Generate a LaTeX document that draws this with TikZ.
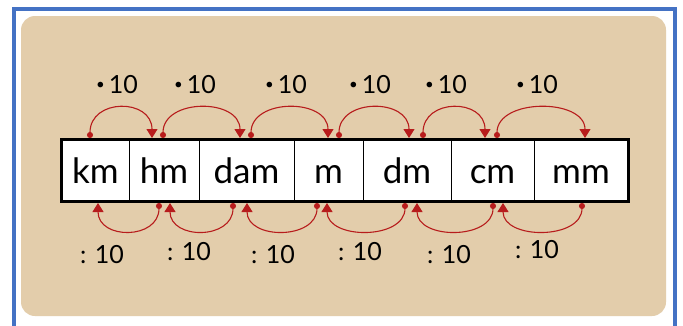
\documentclass[tikz,border=0pt]{standalone}
\usepackage{fontspec}
\setmainfont{Lato}
\usetikzlibrary{arrows.meta}
\definecolor{framblue}{HTML}{4472C4}
\definecolor{beige}{HTML}{E3CDAB}
\definecolor{arrred}{HTML}{B71C1C}
\newcommand{\mdot}{{\fontsize{15}{15}\selectfont\raisebox{4pt}{•}}\,}
\begin{document}
\begin{tikzpicture}[x=1pt,y=-1pt,
  cell/.style={draw=black, line width=0.9pt, fill=white, inner sep=0pt,
    minimum height=61pt, text height=26pt, text depth=0pt,
    font=\fontsize{35}{35}\selectfont},
  up/.style={arrred, line width=1.1pt, {Circle[length=6pt]}-{Triangle[width=11pt,length=9pt]}},
  lbl/.style={font=\fontsize{25}{25}\selectfont, inner sep=0pt}]
\useasboundingbox (0,0) rectangle (683,325);
\fill[white] (0,0) rectangle (683,325);
\draw[framblue, line width=4pt] (14,9) -- (675,9) -- (675,340) -- (14,340) -- cycle;
\fill[beige, rounded corners=14pt] (21,16) rectangle (666,316);
% cells
\node[cell, minimum width=67pt] (km) at (95.5,170.5) {km};
\node[cell, minimum width=70pt] (hm) at (164,170.5) {hm};
\node[cell, minimum width=95pt] (dam) at (246.5,170.5) {dam};
\node[cell, minimum width=69pt] (m) at (328.5,170.5) {m};
\node[cell, minimum width=88pt] (dm) at (407,170.5) {dm};
\node[cell, minimum width=83pt] (cm) at (492.5,170.5) {cm};
\node[cell, minimum width=94pt] (mm) at (581,170.5) {mm};
\draw[black, line width=2.4pt] (km.north west) rectangle (mm.south east);
% top endpoints
\foreach \n/\x in {t1a/90,t1b/152,t2a/163,t2b/240,t3a/251,t3b/328,t4a/339,t4b/409,t5a/423,t5b/485,t6a/497,t6b/585}
  \coordinate (\n) at (\x,138);
\foreach \n/\x in {b1a/159,b1b/98,b2a/233,b2b/170,b3a/317,b3b/247,b4a/405,b4b/327,b5a/493,b5b/417,b6a/582,b6b/503}
  \coordinate (\n) at (\x,203);
\foreach \i in {1,...,6}{
  \draw[up] (t\i a) .. controls +(0,-40) and +(0,-40) .. (t\i b);
  \draw[up] (b\i a) .. controls +(0,37) and +(0,37) .. (b\i b);
}
% labels
\node[lbl] (m1) at (117,85) {\mdot 10};
\node[lbl] (m2) at (195,85) {\mdot 10};
\node[lbl] (m3) at (286,85) {\mdot 10};
\node[lbl] (m4) at (370,85) {\mdot 10};
\node[lbl] (m5) at (446,85) {\mdot 10};
\node[lbl] (m6) at (537,85) {\mdot 10};
\node[lbl] (d1) at (102,255) {: 10};
\node[lbl] (d2) at (189,252) {: 10};
\node[lbl] (d3) at (273,255) {: 10};
\node[lbl] (d4) at (360,252) {: 10};
\node[lbl] (d5) at (449,255) {: 10};
\node[lbl] (d6) at (537,250) {: 10};
\end{tikzpicture}
\end{document}
